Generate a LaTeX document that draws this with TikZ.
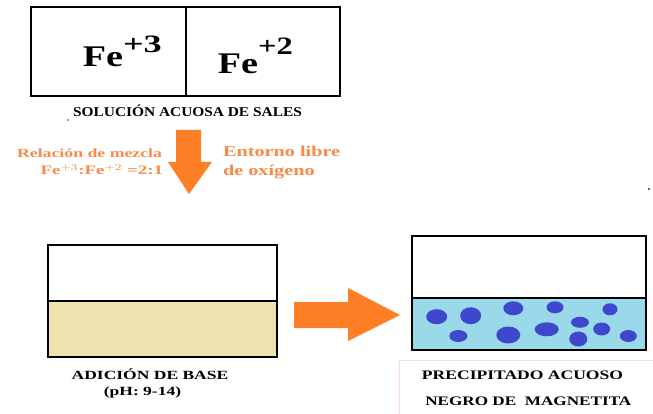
\documentclass[tikz,border=0pt]{standalone}
\usepackage{fontspec}
\setmainfont{Liberation Serif}
\usepackage{graphicx}
\definecolor{arrorange}{HTML}{FF7F27}
\definecolor{txtorange}{HTML}{F98B4A}
\definecolor{beige}{HTML}{EFE4B0}
\definecolor{lblue}{HTML}{99D9EA}
\definecolor{bubble}{HTML}{3F48CC}
\definecolor{peach}{HTML}{FBE0D2}
\newcommand{\sx}[2]{\scalebox{#1}[1]{#2}}
\newcommand{\fs}[1]{\fontsize{#1}{#1}\selectfont\bfseries}
\begin{document}
\begin{tikzpicture}[x=1pt,y=-1pt,
  boxline/.style={draw=black,line width=1.6pt},
  lbl/.style={inner sep=0pt,outer sep=0pt},
  bub/.style={fill=bubble}]
\useasboundingbox (0,0) rectangle (653,414);
\fill[white] (0,0) rectangle (653,414);

% top box
\draw[boxline] (31,7) rectangle (340,96);
\draw[boxline] (186,7) -- (186,96);
\node[lbl,anchor=base east] (fe3) at (123,67) {\fs{30}\sx{1.27}{Fe}};
\node[lbl,anchor=base west] (fe3s) at (fe3.base east) [yshift=14pt] {\fs{25}\sx{1.45}{+3}};
\node[lbl,anchor=base east] (fe2) at (258,74) {\fs{30}\sx{1.27}{Fe}};
\node[lbl,anchor=base west] (fe2s) at (fe2.base east) [yshift=19pt] {\fs{25}\sx{1.3}{+2}};
\node[lbl,anchor=base] (sol) at (187.5,117) {\fs{13.5}\sx{1.14}{SOLUCIÓN ACUOSA DE SALES}};
\fill[black!70] (68,120) circle (0.8);

% down arrow
\fill[arrorange] (176,130) -- (201,130) -- (201,162) -- (212,162) -- (189,194)
  -- (168,162) -- (176,162) -- cycle;
\node[lbl,anchor=base east,text=txtorange] (rel) at (162,158) {\fs{12.5}\sx{1.42}{Relación de mezcla}};
\node[lbl,anchor=base east,text=txtorange] (ratio) at (163,175) {\fs{13}\sx{1.45}{Fe$^{+3}$:Fe$^{+2}$ =2:1}};
\node[lbl,anchor=base west,text=txtorange] (ent) at (223,157) {\fs{15}\sx{1.35}{Entorno libre}};
\node[lbl,anchor=base west,text=txtorange] (oxi) at (223,176) {\fs{15}\sx{1.35}{de oxígeno}};

% left beaker
\fill[beige] (48,301) rectangle (277,357);
\draw[boxline] (48,245) rectangle (277,357);
\draw[boxline] (48,301) -- (277,301);
\node[lbl,anchor=base] (base) at (150,379) {\fs{12.5}\sx{1.4}{ADICIÓN DE BASE}};
\node[lbl,anchor=base] (ph) at (142.5,395.5) {\fs{12.5}\sx{1.4}{(pH: 9-14)}};

% right arrow
\fill[arrorange] (294,302) -- (348,302) -- (348,288) -- (400,315) -- (348,341)
  -- (348,328) -- (294,328) -- cycle;

% right beaker
\fill[lblue] (412,298) rectangle (646,350);
\foreach \x/\y/\rx/\ry in {436.7/316.7/10.5/7.5, 470.7/315.7/10.5/8.5, 458.3/336/9/6,
  513.3/308.3/10/7, 508.3/335/12/8.5, 555/307.3/8.5/6, 546.7/329.3/12/7,
  580/322.3/9/5.5, 578.3/339/9/7.5, 610/309.3/7.5/6, 601.7/329/8.5/6.5, 628.3/336/8.5/6}
  \fill[bub] (\x,\y) ellipse [x radius=\rx, y radius=\ry];
\draw[boxline] (412,236) rectangle (646,350);
\draw[boxline] (412,298) -- (646,298);

% label box
\draw[peach,line width=1pt] (399,360) rectangle (656,417);
\node[lbl,anchor=base] (prec) at (522.5,379.3) {\fs{13}\sx{1.35}{PRECIPITADO ACUOSO}};
\node[lbl,anchor=base] (neg) at (528.3,405) {\fs{13}\sx{1.32}{NEGRO DE\ \ MAGNETITA}};
\fill[black!80] (649,189) circle (1.2);
\end{tikzpicture}
\end{document}
